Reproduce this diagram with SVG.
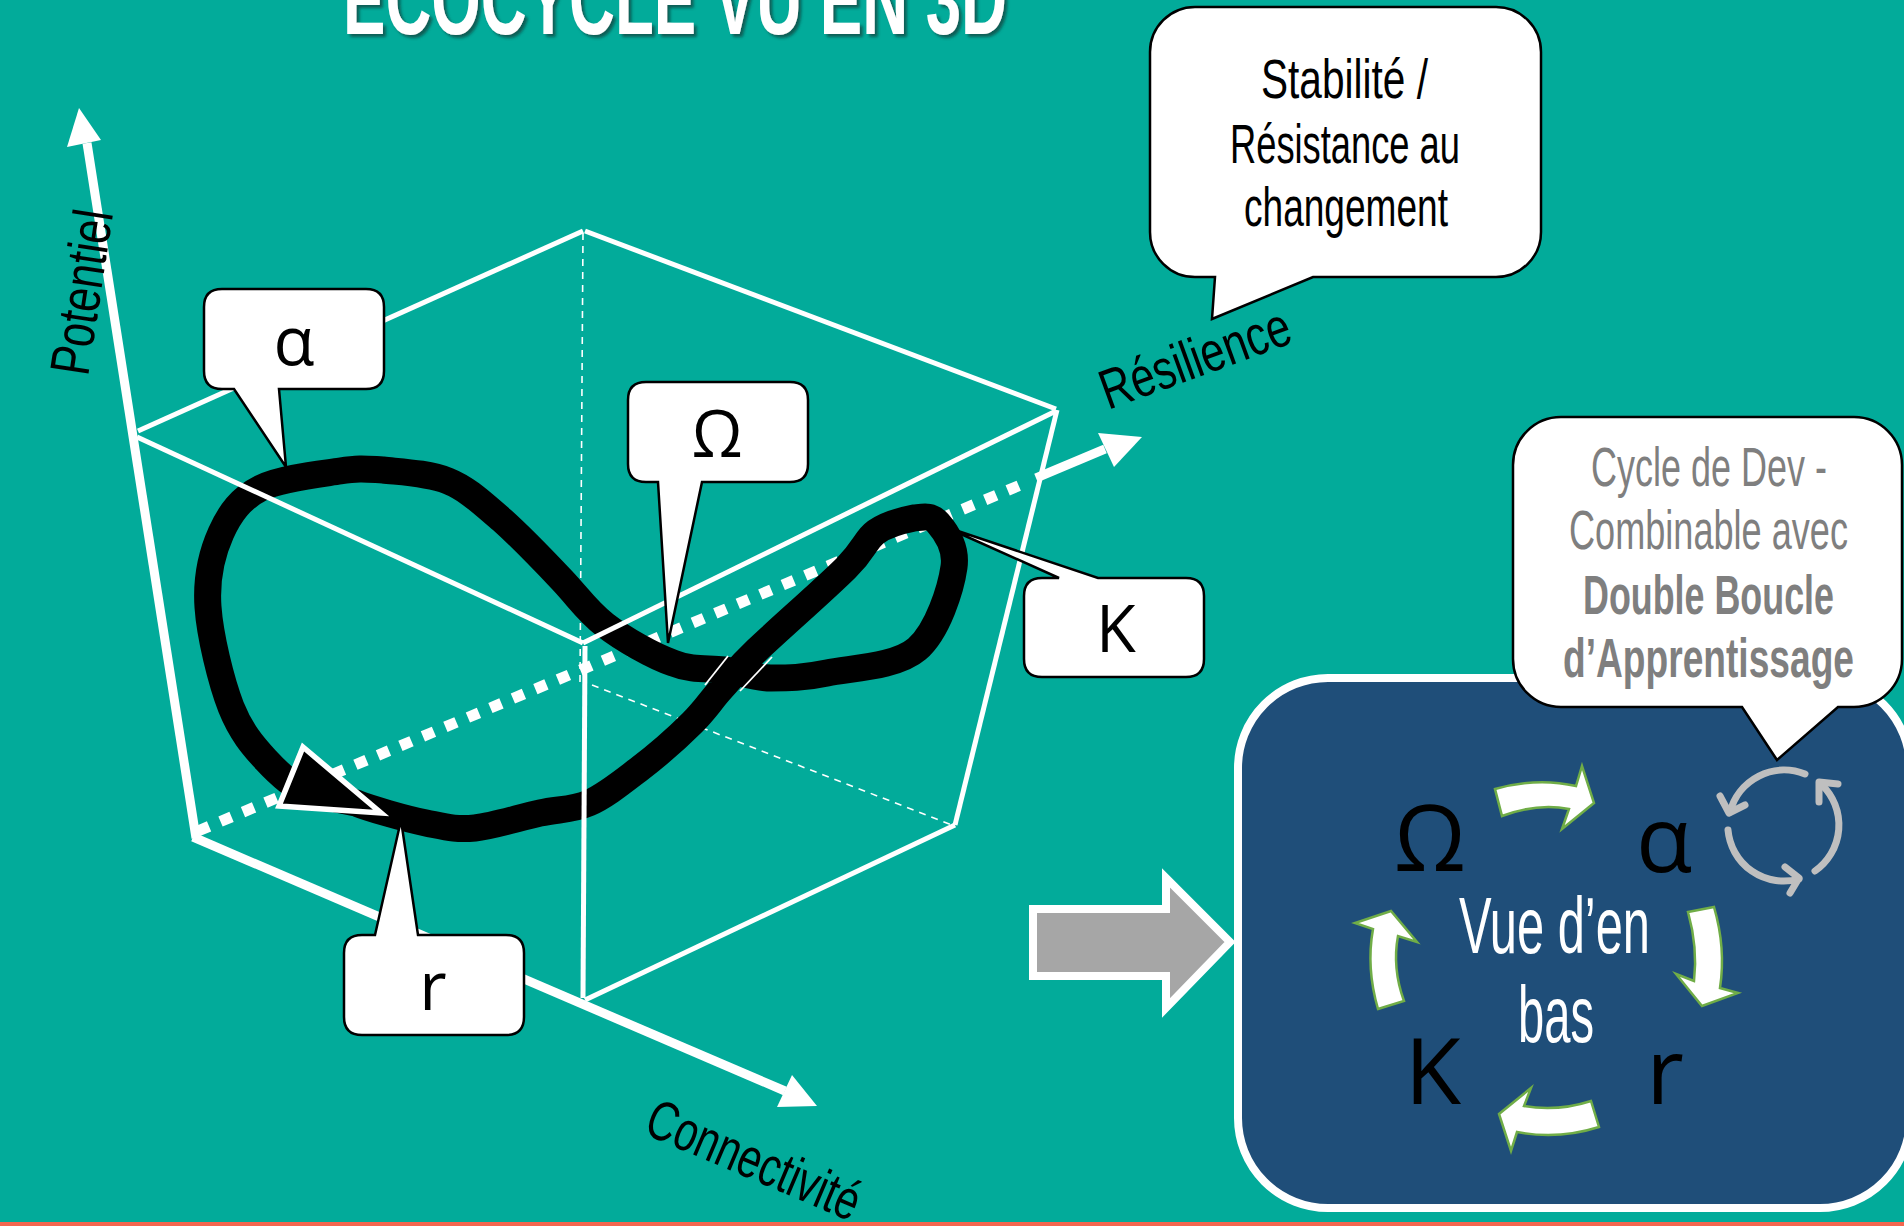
<svg xmlns="http://www.w3.org/2000/svg" width="1904" height="1226" viewBox="0 0 1904 1226">
<style>
.cond{font-family:"Liberation Sans Narrow","Liberation Sans",sans-serif}
.sym{font-family:"Open Sans","Noto Sans",sans-serif;text-anchor:middle;fill:#000}
.call{fill:#fff;stroke:#000;stroke-width:2.5;stroke-linejoin:miter}
.cube{stroke:#fff;stroke-width:5;fill:none}
.thin{stroke:#fff;stroke-width:1.6;fill:none;stroke-dasharray:7 6}
.block{fill:#fff;stroke:#70AD47;stroke-width:2.5;stroke-linejoin:miter}
.cyc{fill:none;stroke:#BFBFBF;stroke-width:7;stroke-linecap:round;stroke-linejoin:round}
.axis{stroke:#fff;stroke-width:9;fill:none}
.big{font-size:92px}
</style>
<defs>
<filter id="shadow" x="-5%" y="-50%" width="110%" height="200%"><feDropShadow dx="3" dy="3" stdDeviation="1.5" flood-color="#0b4a44" flood-opacity="0.8"/></filter>
</defs>
<rect width="1904" height="1226" fill="#02AB9A"/>
<rect y="1222" width="1904" height="4" fill="#F4664F"/>
<text id="title" class="cond" x="343" y="34" font-size="100" font-weight="700" fill="#fff" textLength="664" lengthAdjust="spacingAndGlyphs" filter="url(#shadow)">ECOCYCLE VU EN 3D</text>

<g id="connectors">
<line class="thin" x1="583" y1="233" x2="580" y2="682"/>
<line class="thin" x1="592" y1="685" x2="952" y2="825"/>
<line x1="198" y1="831" x2="1030" y2="481" stroke="#fff" stroke-width="11" stroke-dasharray="12 12.4"/>
<line class="axis" x1="87" y1="143" x2="196" y2="838"/>
<polygon fill="#fff" points="79,108 101,140 67,147"/>
<line class="axis" x1="193" y1="837" x2="785" y2="1091"/>
<polygon fill="#fff" points="817,1106 792,1075 777,1107"/>
<line class="axis" x1="1036" y1="478" x2="1105" y2="449"/>
<polygon fill="#fff" points="1142,437 1098,433 1114,467"/>
</g>

<g id="ecocycle-curve">
<path fill="none" stroke="#000" stroke-width="27" stroke-linejoin="round" d="M307,793 C292,786 279,774 266,760 C253,746 241,732 231,707 C221,681 210,636 208,607 C206,578 212,553 221,533 C230,513 241,498 261,488 C281,478 320,474 340,471 C360,468 365,469 383,470 C401,472 428,473 448,481 C468,489 483,504 502,520 C521,537 545,562 562,580 C579,598 587,611 605,625 C623,639 653,656 673,663 C693,671 708,668 724,670 C740,672 754,678 771,678 C788,678 803,678 827,673 C851,668 896,667 917,649 C938,631 951,588 954,567 C957,546 945,531 938,523 C931,515 924,517 914,518 C904,520 887,524 876,532 C865,540 866,548 846,568 C826,588 778,630 757,650 C736,670 733,676 722,688 C711,700 706,709 692,723 C678,737 655,757 638,770 C621,783 605,796 589,803 C573,810 559,809 540,813 C521,817 494,826 475,828 C456,830 446,827 426,823 C406,819 368,808 356,803 L307,793"/>
<line x1="728" y1="656" x2="705" y2="685" stroke="#fff" stroke-width="1.8"/>
<line x1="772" y1="657" x2="740" y2="691" stroke="#fff" stroke-width="1.8"/>
<polygon points="303,747 381,813 279,806" fill="#000" stroke="#fff" stroke-width="5.5"/>
</g>

<g id="cube">
<line class="cube" x1="138" y1="431" x2="583" y2="231"/>
<line class="cube" x1="585" y1="231" x2="1056" y2="409"/>
<line class="cube" x1="137" y1="437" x2="583" y2="643"/>
<line class="cube" x1="583" y1="643" x2="1056" y2="411"/>
<line class="cube" x1="585" y1="646" x2="583" y2="998"/>
<line class="cube" x1="585" y1="1000" x2="955" y2="825"/>
<line class="cube" x1="1057" y1="410" x2="955" y2="825"/>
</g>

<text id="axis-potentiel" class="cond" transform="translate(88,377) rotate(-81.3)" font-size="56" fill="#000" textLength="166" lengthAdjust="spacingAndGlyphs">Potentiel</text>
<text id="axis-resilience" class="cond" transform="translate(1108,410) rotate(-20)" font-size="56" fill="#000" textLength="199" lengthAdjust="spacingAndGlyphs">Résilience</text>
<text id="axis-connectivite" class="cond" transform="translate(642,1133) rotate(23)" font-size="56" fill="#000" textLength="227" lengthAdjust="spacingAndGlyphs">Connectivité</text>

<g id="callout-alpha">
<path class="call" d="M222,289 H366 Q384,289 384,307 V371 Q384,389 366,389 H279 L286,467 L234,389 H222 Q204,389 204,371 V307 Q204,289 222,289 Z"/>
<text class="sym" x="294" y="365" font-size="67">α</text>
</g>
<g id="callout-omega">
<path class="call" d="M646,382 H790 Q808,382 808,400 V464 Q808,482 790,482 H702 L668,643 L658,482 H646 Q628,482 628,464 V400 Q628,382 646,382Z"/>
<text class="sym" x="717" y="457" font-size="65">Ω</text>
</g>
<g id="callout-r">
<path class="call" d="M362,935 H375 L401,820 L418,935 H506 Q524,935 524,953 V1017 Q524,1035 506,1035 H362 Q344,1035 344,1017 V953 Q344,935 362,935Z"/>
<text class="sym" x="433" y="1010" font-size="67">r</text>
</g>
<g id="callout-k">
<path class="call" d="M1042,578 H1059 L943,526 L1098,578 H1186 Q1204,578 1204,596 V659 Q1204,677 1186,677 H1042 Q1024,677 1024,659 V596 Q1024,578 1042,578Z"/>
<text class="sym" x="1116" y="652" font-size="65">K</text>
</g>
<g id="callout-stabilite">
<path class="call" d="M1195,7 H1496 A45,45 0 0 1 1541,52 V232 A45,45 0 0 1 1496,277 H1313 L1212,319 L1215,277 H1195 A45,45 0 0 1 1150,232 V52 A45,45 0 0 1 1195,7Z"/>
<g class="cond" font-size="56" fill="#000">
<text x="1261" y="98" textLength="167" lengthAdjust="spacingAndGlyphs">Stabilité /</text>
<text x="1230" y="163" textLength="230" lengthAdjust="spacingAndGlyphs">Résistance au</text>
<text x="1244" y="226" textLength="204" lengthAdjust="spacingAndGlyphs">changement</text>
</g>
</g>

<g id="big-arrow">
<polygon points="1033,909 1166,909 1166,878 1230,942 1166,1008 1166,976 1033,976" fill="#A6A6A6" stroke="#fff" stroke-width="8"/>
</g>

<g id="panel">
<rect x="1238" y="678" width="672" height="530" rx="90" fill="#1F4E79" stroke="#fff" stroke-width="8"/>
<path class="block" d="M1495,789 Q1537,777 1576,786 L1582,766 L1594,803 L1562,829 L1569,809 Q1537,803 1502,816 Z"/>
<path class="block" d="M1688,912 L1714,907 Q1726,948 1720,988 L1738,993 L1702,1006 L1676,974 L1694,981 Q1698,948 1688,912Z"/>
<path class="block" d="M1599,1127 L1591,1101 Q1557,1112 1524,1106 L1531,1088 L1499,1114 L1511,1151 L1517,1132 Q1558,1140 1599,1127Z"/>
<path class="block" d="M1378,1009 L1404,1001 Q1392,968 1398,936 L1417,942 L1391,911 L1355,923 L1373,929 Q1366,968 1378,1009Z"/>
<text class="sym big" x="1430" y="871">Ω</text>
<text class="sym big" x="1664" y="872">α</text>
<text class="sym big" x="1433" y="1104">K</text>
<text class="sym big" x="1665" y="1104">r</text>
<g class="cond" font-size="80" fill="#fff">
<text x="1459" y="953" textLength="191" lengthAdjust="spacingAndGlyphs">Vue d’en</text>
<text x="1518" y="1042" textLength="76" lengthAdjust="spacingAndGlyphs">bas</text>
</g>
<g id="cycle-icon" class="cyc">
<path d="M1805,774 A56,56 0 0 0 1730,812"/>
<path d="M1720,796 L1729,813 L1745,805"/>
<path d="M1815,871 A56,56 0 0 0 1822,785"/>
<path d="M1819,802 L1819,782 L1838,784"/>
<path d="M1728,830 A56,56 0 0 0 1799,879"/>
<path d="M1785,867 L1799,878 L1790,893"/>
</g>
</g>

<g id="callout-cycle">
<path class="call" d="M1561,417 H1854 A48,48 0 0 1 1902,465 V659 A48,48 0 0 1 1854,707 H1838 L1777,760 L1742,707 H1561 A48,48 0 0 1 1513,659 V465 A48,48 0 0 1 1561,417Z"/>
<g class="cond" font-size="56" fill="#7F7F7F">
<text x="1591" y="486" textLength="236" lengthAdjust="spacingAndGlyphs">Cycle de Dev -</text>
<text x="1569" y="549" textLength="279" lengthAdjust="spacingAndGlyphs">Combinable avec</text>
<text x="1583" y="614" font-weight="700" textLength="251" lengthAdjust="spacingAndGlyphs">Double Boucle</text>
<text x="1563" y="677" font-weight="700" textLength="291" lengthAdjust="spacingAndGlyphs">d’Apprentissage</text>
</g>
</g>
</svg>
